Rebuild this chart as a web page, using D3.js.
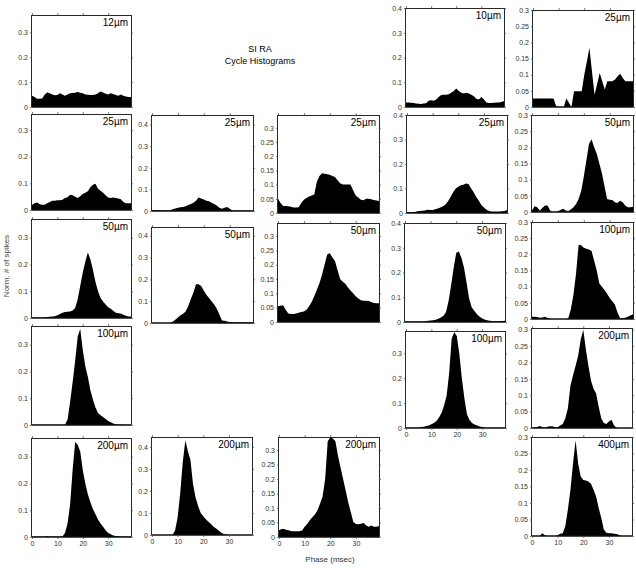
<!DOCTYPE html>
<html>
<head>
<meta charset="utf-8">
<script src="https://cdn.jsdelivr.net/npm/d3@7"></script>
<style>
  body { margin: 0; background: #fff; }
  svg text { font-family: "Liberation Sans", Arial, sans-serif; }
</style>
</head>
<body>
<div id="chart"></div>
<script>
// cycle histograms, 1 msec bins, phase 0..39 msec
var phase = d3.range(0, 40);
var xTickValues = [0, 10, 20, 30];

var h12 = [0.045,0.04,0.033,0.033,0.034,0.05,0.058,0.055,0.05,0.047,0.048,0.055,0.05,0.045,0.05,0.055,0.056,0.057,0.06,0.057,0.055,0.05,0.049,0.048,0.048,0.05,0.055,0.062,0.058,0.053,0.05,0.055,0.052,0.048,0.045,0.05,0.045,0.042,0.04,0.04];
var h10 = [0.018,0.018,0.017,0.016,0.014,0.013,0.012,0.014,0.015,0.025,0.027,0.025,0.03,0.04,0.048,0.05,0.05,0.052,0.058,0.065,0.075,0.065,0.058,0.055,0.058,0.055,0.05,0.043,0.033,0.03,0.04,0.03,0.018,0.016,0.016,0.017,0.018,0.018,0.02,0.024];
var h25e = [0.026,0.026,0.026,0.026,0.026,0.026,0.026,0.026,0.026,0.003,0,0,0,0.026,0.013,0,0.049,0.049,0.049,0.049,0.1,0.14,0.183,0.11,0.038,0.07,0.105,0.08,0.054,0.08,0.08,0.08,0.085,0.095,0.103,0.09,0.08,0.08,0.08,0.08];
var h25a = [0.019,0.025,0.028,0.022,0.02,0.02,0.025,0.03,0.035,0.035,0.037,0.037,0.038,0.045,0.048,0.057,0.055,0.05,0.045,0.052,0.06,0.065,0.07,0.085,0.095,0.098,0.08,0.072,0.065,0.055,0.047,0.045,0.047,0.045,0.043,0.04,0.03,0.025,0.025,0.025];
var h25b = [0.005,0.005,0.005,0.004,0.003,0.003,0.004,0.003,0.008,0.012,0.015,0.017,0.018,0.022,0.028,0.033,0.038,0.048,0.063,0.058,0.053,0.048,0.045,0.038,0.032,0.025,0.015,0.01,0.015,0.018,0.01,0.004,0.002,0.002,0.002,0.002,0.002,0.002,0.002,0.002];
var h25c = [0.05,0.035,0.025,0.025,0.024,0.022,0.019,0.019,0.02,0.035,0.047,0.053,0.058,0.062,0.065,0.11,0.13,0.14,0.138,0.136,0.135,0.13,0.127,0.115,0.105,0.1,0.1,0.1,0.1,0.08,0.062,0.055,0.047,0.045,0.05,0.05,0.048,0.046,0.044,0.042];
var h25d = [0.003,0.003,0.004,0.004,0.007,0.008,0.009,0.01,0.013,0.012,0.012,0.015,0.018,0.022,0.028,0.035,0.048,0.065,0.085,0.1,0.107,0.113,0.115,0.12,0.118,0.1,0.085,0.065,0.05,0.033,0.022,0.013,0.008,0.006,0.006,0.006,0.006,0.007,0.008,0.012];
var h50e = [0.005,0.018,0.015,0.005,0.012,0.02,0.02,0.005,0,0,0.002,0.006,0.01,0.005,0.003,0.008,0.015,0.025,0.04,0.065,0.11,0.16,0.21,0.225,0.2,0.18,0.15,0.12,0.08,0.04,0.038,0.037,0.03,0.028,0.035,0.03,0.02,0.015,0.015,0.016];
var h50a = [0.002,0.002,0.002,0.002,0.002,0.003,0.004,0.005,0.006,0.007,0.01,0.015,0.02,0.022,0.023,0.024,0.028,0.037,0.07,0.12,0.17,0.21,0.245,0.22,0.18,0.135,0.1,0.075,0.062,0.05,0.04,0.035,0.027,0.02,0.018,0.017,0.012,0.008,0.006,0.006];
var h50b = [0,0,0,0,0,0,0,0.001,0.006,0.015,0.025,0.035,0.042,0.053,0.078,0.11,0.14,0.178,0.178,0.17,0.148,0.13,0.115,0.1,0.085,0.065,0.04,0.012,0.01,0.007,0.005,0.004,0.004,0.003,0.003,0.003,0.003,0.003,0.003,0.003];
var h50c = [0.055,0.057,0.058,0.042,0.03,0.028,0.028,0.03,0.032,0.035,0.037,0.043,0.055,0.07,0.09,0.112,0.135,0.165,0.2,0.235,0.24,0.225,0.213,0.18,0.15,0.14,0.133,0.12,0.11,0.1,0.09,0.082,0.076,0.074,0.074,0.073,0.07,0.066,0.065,0.065];
var h50d = [0.002,0.002,0.002,0.002,0.002,0.002,0.002,0.002,0.003,0.005,0.006,0.007,0.009,0.013,0.018,0.025,0.04,0.085,0.15,0.22,0.28,0.285,0.26,0.22,0.16,0.095,0.06,0.045,0.032,0.022,0.015,0.01,0.007,0.005,0.004,0.003,0.003,0.004,0.004,0.005];
var h100e = [0.007,0.007,0.006,0.004,0.005,0.007,0.003,0.001,0,0,0,0,0,0,0.002,0.03,0.075,0.14,0.23,0.228,0.22,0.217,0.215,0.21,0.18,0.15,0.11,0.1,0.09,0.078,0.065,0.055,0.045,0.02,0.003,0.002,0.004,0.007,0.011,0.015];
var h100a = [0.001,0.001,0.001,0.001,0.001,0.001,0.001,0.001,0.001,0.001,0.001,0.001,0.001,0.002,0.02,0.085,0.16,0.24,0.33,0.36,0.28,0.22,0.18,0.13,0.095,0.065,0.045,0.036,0.03,0.022,0.015,0.01,0.006,0.003,0.002,0.002,0.001,0.001,0.001,0.001];
var h100d = [0.001,0.001,0.001,0.001,0.001,0.002,0.004,0.005,0.008,0.01,0.015,0.02,0.028,0.042,0.06,0.09,0.13,0.22,0.36,0.385,0.37,0.3,0.2,0.12,0.055,0.032,0.02,0.014,0.01,0.006,0.004,0.002,0.001,0.001,0.001,0.001,0.001,0.001,0.001,0.001];
var h200e = [0.001,0.002,0.003,0.006,0.003,0.001,0.004,0.005,0.005,0.002,0.002,0.008,0.012,0.03,0.06,0.13,0.16,0.19,0.22,0.27,0.3,0.24,0.19,0.145,0.12,0.105,0.065,0.03,0.015,0.012,0.02,0.025,0.008,0.001,0,0,0,0,0,0];
var h200a = [0.002,0.002,0.002,0.002,0.002,0.002,0.004,0.002,0.002,0.002,0.002,0.002,0.002,0.015,0.05,0.12,0.25,0.355,0.345,0.32,0.25,0.2,0.16,0.13,0.105,0.085,0.065,0.05,0.038,0.025,0.015,0.01,0.006,0.004,0.003,0.002,0.002,0.002,0.002,0.002];
var h200b = [0,0,0,0,0,0,0,0,0.001,0.02,0.08,0.19,0.33,0.43,0.38,0.34,0.23,0.17,0.13,0.1,0.085,0.072,0.06,0.05,0.038,0.03,0.02,0.01,0.005,0.002,0,0,0,0,0,0,0,0,0,0];
var h200c = [0.023,0.028,0.028,0.024,0.022,0.02,0.02,0.02,0.02,0.022,0.035,0.045,0.058,0.068,0.078,0.092,0.115,0.14,0.2,0.33,0.343,0.34,0.33,0.28,0.24,0.2,0.16,0.12,0.085,0.052,0.045,0.044,0.046,0.048,0.04,0.035,0.04,0.035,0.035,0.038];
var h400e = [0,0,0,0,0.008,0.002,0,0,0,0,0.002,0.007,0.008,0.03,0.08,0.14,0.22,0.29,0.22,0.18,0.17,0.168,0.165,0.158,0.14,0.12,0.085,0.055,0.02,0.01,0.008,0.008,0.007,0.006,0.003,0,0,0,0,0];

// layout: box edges in px, y max, y tick step, x tick labels shown
var panels = [
  { data: h12,   label: "12\u00b5m",  box: [32, 15, 131, 107],  ymax: 0.37,  step: 0.1 },
  { data: h10,   label: "10\u00b5m",  box: [406, 8, 504, 107],  ymax: 0.4,   step: 0.1 },
  { data: h25e,  label: "25\u00b5m",  box: [533, 10, 633, 107], ymax: 0.3,   step: 0.05 },
  { data: h25a,  label: "25\u00b5m",  box: [32, 114, 131, 210], ymax: 0.36,  step: 0.1 },
  { data: h25b,  label: "25\u00b5m",  box: [152, 115, 253, 211], ymax: 0.445, step: 0.1 },
  { data: h25c,  label: "25\u00b5m",  box: [278, 115, 379, 213], ymax: 0.345, step: 0.05 },
  { data: h25d,  label: "25\u00b5m",  box: [407, 115, 507, 213], ymax: 0.4,   step: 0.1 },
  { data: h50e,  label: "50\u00b5m",  box: [532, 115, 633, 212], ymax: 0.3,   step: 0.05 },
  { data: h50a,  label: "50\u00b5m",  box: [32, 219, 131, 318], ymax: 0.37,  step: 0.1 },
  { data: h50b,  label: "50\u00b5m",  box: [152, 227, 253, 323], ymax: 0.44,  step: 0.1 },
  { data: h50c,  label: "50\u00b5m",  box: [278, 223, 379, 322], ymax: 0.345, step: 0.05 },
  { data: h50d,  label: "50\u00b5m",  box: [405, 223, 505, 322], ymax: 0.4,   step: 0.1 },
  { data: h100e, label: "100\u00b5m", box: [532, 222, 633, 319], ymax: 0.3,   step: 0.05 },
  { data: h100a, label: "100\u00b5m", box: [32, 326, 131, 425], ymax: 0.37,  step: 0.1 },
  { data: h100d, label: "100\u00b5m", box: [406, 331, 505, 428], ymax: 0.39,  step: 0.1, xlab: true },
  { data: h200e, label: "200\u00b5m", box: [532, 328, 632, 428], ymax: 0.305, step: 0.05 },
  { data: h200a, label: "200\u00b5m", box: [32, 438, 131, 537], ymax: 0.37,  step: 0.1, xlab: true },
  { data: h200b, label: "200\u00b5m", box: [152, 437, 252, 535], ymax: 0.445, step: 0.1, xlab: true },
  { data: h200c, label: "200\u00b5m", box: [279, 437, 379, 537], ymax: 0.345, step: 0.05, xlab: true },
  { data: h400e, label: "400\u00b5m", box: [532, 437, 632, 536], ymax: 0.3,   step: 0.05, xlab: true }
];

var svg = d3.select("#chart").append("svg")
    .attr("width", 636).attr("height", 568);

function fmt(d) {
    return d === 0 ? "0" : String(+d.toFixed(2));
}

panels.forEach(function(p) {
    var b = p.box;
    var x = d3.scaleLinear().domain([0, 39]).range([b[0], b[2]]);
    var y = d3.scaleLinear().domain([0, p.ymax]).range([b[3], b[1]]);
    var g = svg.append("g");

    var area = d3.area()
        .x(function(d, i) { return x(phase[i]); })
        .y0(y(0))
        .y1(function(d) { return y(Math.min(d, p.ymax)); });
    g.append("path").attr("d", area(p.data)).attr("fill", "#000");

    var yt = d3.range(0, p.ymax + 1e-9, p.step);
    var left = g.append("g").attr("transform", "translate(" + b[0] + ",0)")
        .call(d3.axisLeft(y).tickValues(yt).tickFormat(fmt).tickSize(2).tickPadding(2));
    var right = g.append("g").attr("transform", "translate(" + b[2] + ",0)")
        .call(d3.axisRight(y).tickValues(yt).tickFormat("").tickSize(2));
    var top = g.append("g").attr("transform", "translate(0," + b[1] + ")")
        .call(d3.axisTop(x).tickValues(xTickValues).tickFormat("").tickSize(2));
    var bottom = g.append("g").attr("transform", "translate(0," + b[3] + ")")
        .call(d3.axisBottom(x).tickValues(xTickValues)
            .tickFormat(p.xlab ? d3.format("d") : "").tickSize(p.xlab ? 2 : 0).tickPadding(2));
    [left, right, top, bottom].forEach(function(a) {
        a.selectAll(".domain").attr("stroke", "#111").attr("stroke-width", 0.9);
        a.selectAll(".tick line").attr("stroke", "#444").attr("stroke-width", 0.7);
        a.selectAll("text").attr("font-size", 7).attr("fill", "#333");
    });
    right.selectAll(".domain").attr("d", "M0.5," + b[1] + "V" + b[3]);
    left.selectAll(".domain").attr("d", "M-0.5," + b[1] + "V" + b[3]);
    top.selectAll(".domain").attr("d", "M" + b[0] + ",0.5H" + b[2]);
    bottom.selectAll(".domain").attr("d", "M" + b[0] + ",0H" + b[2]).attr("stroke-width", 1.3);

    g.append("text")
        .attr("x", b[2] - 3).attr("y", b[1] + 11)
        .attr("text-anchor", "end")
        .attr("font-size", 10)
        .text(p.label);
});

svg.append("text").attr("x", 260).attr("y", 52).attr("text-anchor", "middle")
    .attr("font-size", 9).text("SI RA");
svg.append("text").attr("x", 260).attr("y", 64).attr("text-anchor", "middle")
    .attr("font-size", 9).text("Cycle Histograms");
svg.append("text").attr("x", 330).attr("y", 562).attr("text-anchor", "middle")
    .attr("font-size", 8).attr("fill", "#333").text("Phase (msec)");
svg.append("text").attr("transform", "translate(9,266) rotate(-90)")
    .attr("text-anchor", "middle").attr("font-size", 8).attr("fill", "#444")
    .text("Norm. # of spikes");
</script>
</body>
</html>
